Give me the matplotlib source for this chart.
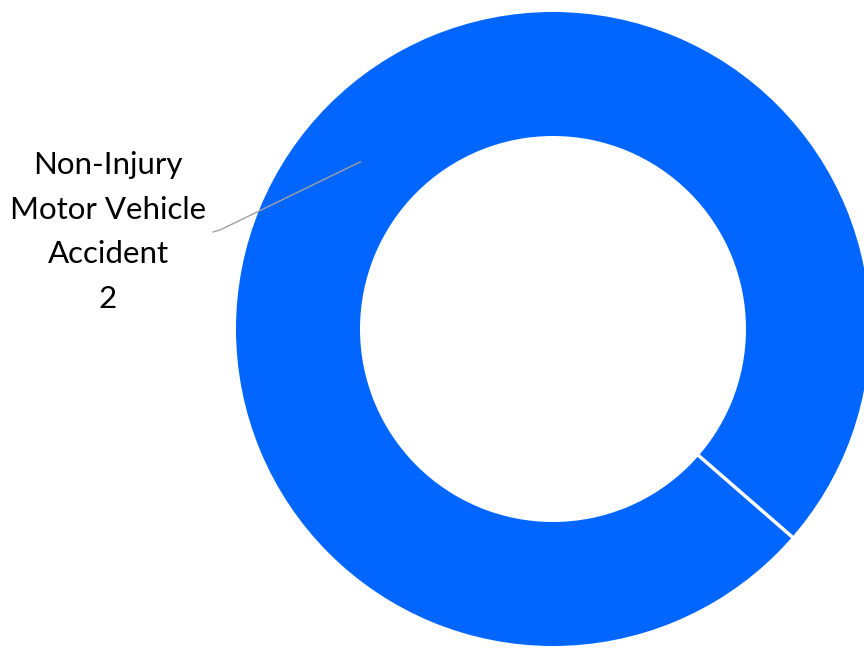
import numpy as np
import matplotlib
matplotlib.use("Agg")
import matplotlib.pyplot as plt

# incident counts by type
categories = ["Non-Injury\nMotor Vehicle\nAccident"]
counts = [2]
colors = ["#0066FF"]

W, H = 864, 648
fig = plt.figure(figsize=(W / 100, H / 100), dpi=100)
ax = fig.add_axes([0, 0, 1, 1])

cx, cy = 553, H - 329
r_out, r_in = 317, 193

wedges, _ = ax.pie(counts, colors=colors, startangle=-41, counterclock=True,
                   center=(cx, cy), radius=r_out, frame=True,
                   wedgeprops=dict(width=r_out - r_in, linewidth=0))
ax.set_xlim(0, W)
ax.set_ylim(0, H)
ax.set_aspect("equal")
ax.axis("off")

# white separator at each slice boundary (full-circle wedges draw no radial edge)
for w in wedges:
    a = np.deg2rad(w.theta1)
    ax.plot([cx + (r_in - 2) * np.cos(a), cx + (r_out + 2) * np.cos(a)],
            [cy + (r_in - 2) * np.sin(a), cy + (r_out + 2) * np.sin(a)],
            color="white", lw=2.5, solid_capstyle="butt")

# callout label with leader line from the ring middle
for w, cat, n in zip(wedges, categories, counts):
    mid = np.deg2rad((w.theta1 + w.theta2) / 2)
    r_mid = (r_out + r_in) / 2
    x0, y0 = cx + r_mid * np.cos(mid), cy + r_mid * np.sin(mid)
    ex, ey = 220, H - 230
    tx, ty = 213, H - 232
    ax.plot([x0, ex, tx], [y0, ey, ty], color="#a0a0a0", lw=1)
    ax.text(108, ty, f"{cat}\n{n}", ha="center", va="center",
            fontsize=22.5, family="Lato", linespacing=1.72, color="black")

fig.savefig("out.png", dpi=100)
